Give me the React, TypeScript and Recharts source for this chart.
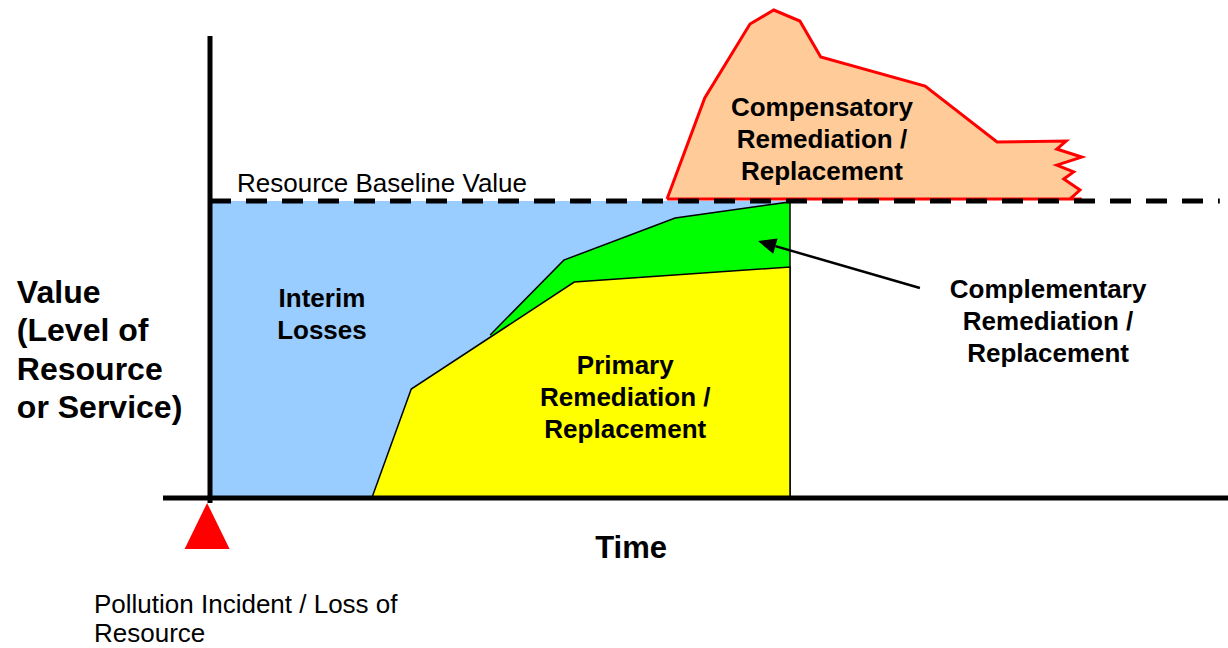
import { Area, ComposedChart, ReferenceDot, ReferenceLine, XAxis, YAxis } from "recharts";

// time runs 0 (incident) .. 100 (end of remediation); value 0 = none, 100 = baseline
const interimTime = [0, 100];
const interimValue = [100, 100];

const complementaryTime = [48.3, 61.0, 80.2, 100, 100];
const complementaryValue = [54.9, 80.1, 94.3, 99.7, 0];

const primaryTime = [27.9, 34.7, 62.8, 100, 100];
const primaryValue = [0, 36.7, 72.7, 77.8, 0];

const compensatoryTime = [78.8, 85.3, 93.1, 97.2, 101.7, 105.3, 123.3, 135.7, 147.6, 146.0, 150.3, 146.0, 148.9, 147.2, 150.0, 148.3];
const compensatoryValue = [100.7, 134.7, 159.6, 164.3, 160.6, 148.5, 138.7, 119.9, 120.2, 117.5, 114.8, 112.1, 109.8, 107.4, 103.7, 100.7];
const compensatoryFloor = 100.7;

const baselineValue = 100;
const timeDomain = [-8, 175];
const valueDomain = [-10, 166];

const baselineLabel = ["Resource Baseline Value"];
const interimLabel = ["Interim", "Losses"];
const primaryLabel = ["Primary", "Remediation /", "Replacement"];
const compensatoryLabel = ["Compensatory", "Remediation /", "Replacement"];
const complementaryLabel = ["Complementary", "Remediation /", "Replacement"];
const valueAxisLabel = ["Value", "(Level of", "Resource", "or Service)"];
const timeAxisLabel = ["Time"];
const incidentLabel = ["Pollution Incident / Loss of", "Resource"];

const font = "'Liberation Sans', Arial, sans-serif";

const rows = (ts: number[], vs: number[]) => ts.map((t, i) => ({ t, v: vs[i] }));
const interimData = rows(interimTime, interimValue);
const complementaryData = rows(complementaryTime, complementaryValue);
const primaryData = rows(primaryTime, primaryValue);
const compensatoryData = compensatoryTime.map((t, i) => ({ t, r: [compensatoryFloor, compensatoryValue[i]] }));

function note(lines: string[], size: number, lineHeight: number, bold: boolean, anchor: "start" | "middle") {
  return (p: any) => (
    <text
      x={p.cx}
      y={p.cy + size * 0.35}
      fontFamily={font}
      fontSize={size}
      fontWeight={bold ? 700 : 400}
      textAnchor={anchor}
      fill="#000"
    >
      {lines.map((l, i) => (
        <tspan key={i} x={p.cx} dy={i === 0 ? 0 : lineHeight}>
          {l}
        </tspan>
      ))}
    </text>
  );
}

const triangle = (p: any) => (
  <polygon
    points={`${p.cx},${p.cy - 23} ${p.cx + 22.5},${p.cy + 23} ${p.cx - 22.5},${p.cy + 23}`}
    fill="#ff0000"
  />
);

const arrow = (p: any) => {
  const { x1, y1, x2, y2 } = p;
  const len = Math.hypot(x2 - x1, y2 - y1);
  const ux = (x2 - x1) / len;
  const uy = (y2 - y1) / len;
  const bx = x2 - ux * 18;
  const by = y2 - uy * 18;
  return (
    <g>
      <line x1={x1} y1={y1} x2={bx} y2={by} stroke="#000" strokeWidth={2.5} />
      <polygon points={`${x2},${y2} ${bx - uy * 8},${by + ux * 8} ${bx + uy * 8},${by - ux * 8}`} fill="#000" />
    </g>
  );
};

export default function App() {
  return (
    <div style={{ position: "absolute", left: 0, top: 0, background: "#fff" }}>
      <ComposedChart width={1228} height={648} margin={{ top: 5, right: 3, bottom: 120.28, left: 163.6 }}>
        <XAxis type="number" dataKey="t" domain={timeDomain} allowDataOverflow hide />
        <YAxis type="number" domain={valueDomain} allowDataOverflow hide />

        <Area data={interimData} dataKey="v" type="linear" fill="#99ccff" fillOpacity={1} stroke="none" isAnimationActive={false} />
        <Area data={complementaryData} dataKey="v" type="linear" fill="#00ff00" fillOpacity={1} stroke="#000" strokeWidth={1.5} isAnimationActive={false} />
        <Area data={primaryData} dataKey="v" type="linear" fill="#ffff00" fillOpacity={1} stroke="#000" strokeWidth={1.5} isAnimationActive={false} />
        <Area data={compensatoryData} dataKey="r" type="linear" fill="#ffcc99" fillOpacity={1} stroke="#ff0000" strokeWidth={3} isAnimationActive={false} />

        <ReferenceLine
          segment={[{ x: 0, y: baselineValue }, { x: 174.1, y: baselineValue }]}
          stroke="#000"
          strokeWidth={5}
          strokeDasharray="21 15"
          ifOverflow="visible"
        />
        <ReferenceLine segment={[{ x: 0, y: 155.6 }, { x: 0, y: -1.7 }]} stroke="#000" strokeWidth={5} ifOverflow="visible" />
        <ReferenceLine segment={[{ x: -8.1, y: 0 }, { x: 175.6, y: 0 }]} stroke="#000" strokeWidth={5} ifOverflow="visible" />
        <ReferenceLine segment={[{ x: 122.4, y: 70.7 }, { x: 94.5, y: 86.5 }]} shape={arrow} ifOverflow="visible" />

        <ReferenceDot x={-0.5} y={-9.4} r={0} shape={triangle} ifOverflow="visible" />

        <ReferenceDot x={4.66} y={106.1} r={0} shape={note(baselineLabel, 26, 31, false, "start")} ifOverflow="visible" />
        <ReferenceDot x={19.3} y={67.3} r={0} shape={note(interimLabel, 26, 32, true, "middle")} ifOverflow="visible" />
        <ReferenceDot x={71.6} y={44.8} r={0} shape={note(primaryLabel, 26, 32, true, "middle")} ifOverflow="visible" />
        <ReferenceDot x={105.5} y={131.6} r={0} shape={note(compensatoryLabel, 26, 32, true, "middle")} ifOverflow="visible" />
        <ReferenceDot x={144.5} y={70.4} r={0} shape={note(complementaryLabel, 26, 32, true, "middle")} ifOverflow="visible" />
        <ReferenceDot x={-33.3} y={69.4} r={0} shape={note(valueAxisLabel, 32, 38.3, true, "start")} ifOverflow="visible" />
        <ReferenceDot x={72.6} y={-16.6} r={0} shape={note(timeAxisLabel, 31, 38, true, "middle")} ifOverflow="visible" />
        <ReferenceDot x={-20.0} y={-35.7} r={0} shape={note(incidentLabel, 26, 29, false, "start")} ifOverflow="visible" />
      </ComposedChart>
    </div>
  );
}
